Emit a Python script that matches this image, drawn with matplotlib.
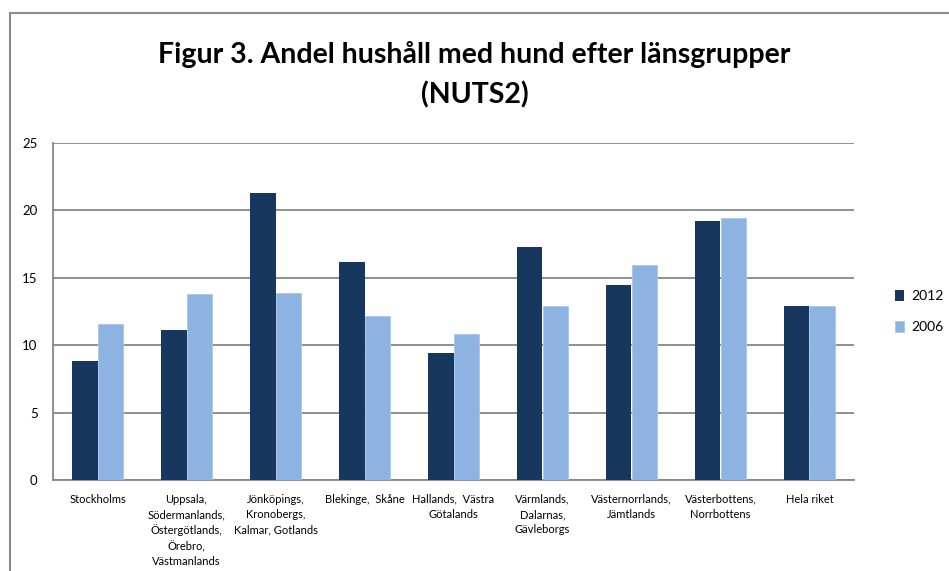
import numpy as np
import matplotlib.pyplot as plt
from matplotlib.patches import Rectangle

plt.rcParams['font.family'] = ['Lato', 'DejaVu Sans']

categories = [
    "Stockholms",
    "Uppsala,\nSödermanlands,\nÖstergötlands,\nÖrebro,\nVästmanlands",
    "Jönköpings,\nKronobergs,\nKalmar, Gotlands",
    "Blekinge,  Skåne",
    "Hallands,  Västra\nGötalands",
    "Värmlands,\nDalarnas,\nGävleborgs",
    "Västernorrlands,\nJämtlands",
    "Västerbottens,\nNorrbottens",
    "Hela riket",
]
v2012 = [8.8, 11.1, 21.3, 16.2, 9.4, 17.3, 14.5, 19.2, 12.9]
v2006 = [11.6, 13.8, 13.9, 12.2, 10.85, 12.9, 15.95, 19.4, 12.9]
yticks = [0, 5, 10, 15, 20, 25]

fig = plt.figure(figsize=(9.49, 5.71), dpi=100)
fig.patches.append(Rectangle((10 / 949, -0.05), 1.0, 1 - 13 / 571 + 0.05,
                             transform=fig.transFigure, fill=False,
                             edgecolor="#8c8c8c", linewidth=1.5))

ax = fig.add_axes([53 / 949, 1 - 480 / 571, 801 / 949, 337 / 571])
x = np.arange(len(categories))
w = 0.287
ax.bar(x - w / 2, v2012, w, color="#17375E", label="2012", zorder=3)
ax.bar(x + w / 2, v2006, w, color="#8DB3E2", edgecolor="#a9c6ea",
       linewidth=0.6, label="2006", zorder=3)

ax.set_xlim(-0.5, len(categories) - 0.5)
ax.set_ylim(0, 25)
ax.set_yticks(yticks)
ax.set_xticks(x)
ax.set_xticklabels(categories, fontsize=8, va="top", linespacing=1.45)
ax.tick_params(axis="both", length=0)
ax.tick_params(axis="x", pad=10)
ax.tick_params(axis="y", labelsize=9.5, pad=11)
ax.yaxis.grid(True, color="#878787", linewidth=1.3, zorder=0)
for s in ["top", "right"]:
    ax.spines[s].set_visible(False)
ax.spines["left"].set_color("#878787")
ax.spines["bottom"].set_color("#878787")
ax.spines["left"].set_linewidth(1.3)
ax.spines["bottom"].set_linewidth(1.3)

fig.text(0.5, 1 - 55 / 571, "Figur 3. Andel hushåll med hund efter länsgrupper",
         ha="center", va="center", fontsize=20.5, fontweight="bold")
fig.text(0.5, 1 - 95 / 571, "(NUTS2)", ha="center", va="center",
         fontsize=20.5, fontweight="bold")

ax.legend(loc="center left", bbox_to_anchor=(1.035, 0.5), frameon=False,
          fontsize=10, handlelength=0.7, handleheight=0.9, labelspacing=1.3,
          handletextpad=0.5)

fig.savefig("out.png", dpi=100)
